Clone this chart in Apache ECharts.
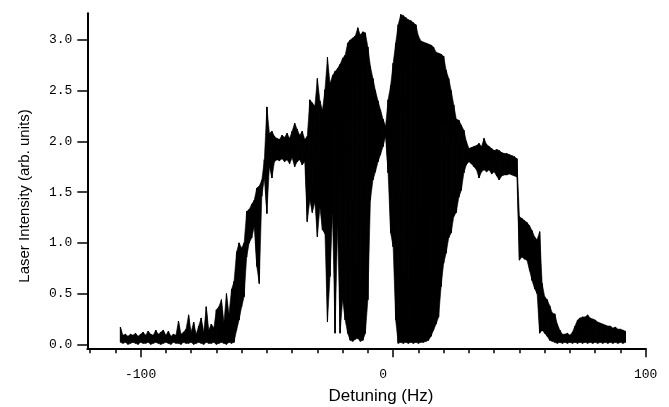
<!DOCTYPE html>
<html><head><meta charset="utf-8">
<script src="https://cdn.jsdelivr.net/npm/echarts@6/dist/echarts.min.js"></script>
<style>html,body{margin:0;padding:0;background:#fff}#c{width:669px;height:407px}</style>
</head><body><div id="c"></div>
<script>
// Detuning positions (Hz) at which the signal envelope was read
const detuning = [
-108,-107,-106,-105,-104,-103,-102,-101,-100,-99,
-98,-97,-96,-95,-94,-93,-92,-91,-90,-89,
-88,-87,-86,-85,-84,-83,-82,-81,-80,-79,
-78,-77,-76,-75,-74,-73,-72,-71,-70,-69,
-68,-67,-66,-65,-64,-63,-62,-61,-60,-59,
-58,-57,-56,-55,-54,-53,-52,-51,-50,-49,
-48,-47,-46,-45,-44,-43,-42,-41,-40,-39,
-38,-37,-36,-35,-34,-33,-32,-31,-30,-29,
-28,-27,-26,-25,-24,-23,-22,-21,-20,-19,
-18,-17,-16,-15,-14,-13,-12,-11,-10,-9,
-8,-7,-6,-5,-4,-3,-2,-1,0,1,
2,3,4,5,6,7,8,9,10,11,
12,13,14,15,16,17,18,19,20,21,
22,23,24,25,26,27,28,29,30,31,
32,33,34,35,36,37,38,39,40,41,
42,43,44,45,46,47,48,49,50,51,
52,53,54,55,56,57,58,59,60,61,
62,63,64,65,66,67,68,69,70,71,
72,73,74,75,76,77,78,79,80,81,
82,83,84,85,86,87,88,89,90,91,
92];
// Upper envelope of the laser intensity (arb. units)
const upper = [
0.17,0.09,0.10,0.08,0.10,0.09,0.11,0.08,0.10,0.12,
0.09,0.13,0.10,0.09,0.14,0.10,0.12,0.14,0.09,0.13,
0.08,0.10,0.09,0.23,0.10,0.12,0.15,0.29,0.12,0.22,
0.10,0.18,0.26,0.12,0.37,0.14,0.20,0.16,0.34,0.37,
0.44,0.22,0.50,0.30,0.54,0.62,0.91,1.00,0.95,1.00,
1.31,1.33,1.38,1.42,1.54,1.56,1.62,1.82,2.34,2.08,
2.10,2.05,2.03,2.02,2.06,2.04,2.08,2.03,2.10,2.18,
2.12,2.06,2.10,2.02,2.05,2.41,2.38,2.35,2.62,2.40,
2.31,2.51,2.83,2.57,2.65,2.69,2.72,2.76,2.82,2.85,
2.97,3.00,3.02,3.04,3.12,3.05,3.08,3.07,2.93,2.74,
2.62,2.50,2.40,2.31,2.22,2.15,2.41,2.55,2.77,2.97,
3.15,3.25,3.24,3.22,3.20,3.19,3.17,3.15,3.04,2.99,
2.98,2.97,2.96,2.95,2.93,2.88,2.87,2.86,2.84,2.70,
2.62,2.50,2.36,2.22,2.21,2.16,2.11,2.00,1.93,1.94,
1.95,1.96,1.98,1.95,2.03,1.97,1.95,1.93,1.91,1.92,
1.91,1.89,1.88,1.88,1.87,1.86,1.85,1.83,1.26,1.24,
1.22,1.20,1.17,1.12,1.06,1.03,1.11,0.60,0.47,0.44,
0.38,0.31,0.30,0.20,0.14,0.10,0.10,0.11,0.09,0.12,
0.18,0.24,0.26,0.27,0.27,0.29,0.26,0.25,0.24,0.22,
0.21,0.20,0.19,0.18,0.18,0.16,0.17,0.15,0.15,0.14,
0.13];
// Lower envelope of the laser intensity (arb. units)
const lower = [
0.02,0.01,0.02,0.00,0.01,0.02,0.01,0.00,0.02,0.01,
0.01,0.02,0.00,0.01,0.02,0.01,0.00,0.01,0.02,0.01,
0.00,0.02,0.01,0.01,0.00,0.02,0.01,0.01,0.02,0.00,
0.01,0.02,0.01,0.00,0.02,0.01,0.01,0.02,0.00,0.01,
0.02,0.01,0.00,0.02,0.01,0.02,0.14,0.24,0.37,0.47,
0.86,1.00,1.05,1.16,0.77,0.60,1.46,1.64,1.29,1.75,
1.64,1.80,1.82,1.81,1.83,1.80,1.82,1.78,1.84,1.75,
1.80,1.82,1.77,1.80,1.21,1.42,1.30,1.40,1.06,1.35,
1.13,1.09,0.22,0.67,1.29,0.11,1.16,0.11,0.44,0.24,
0.11,0.04,0.03,0.05,0.06,0.03,0.04,0.11,0.44,1.42,
1.62,1.70,1.80,1.87,1.95,2.05,1.69,1.10,0.96,0.24,
0.01,0.02,0.01,0.02,0.01,0.02,0.01,0.02,0.01,0.02,
0.02,0.03,0.04,0.08,0.14,0.20,0.27,0.57,0.80,0.90,
1.05,1.10,1.26,1.30,1.45,1.52,1.69,1.77,1.80,1.78,
1.75,1.72,1.64,1.70,1.72,1.70,1.72,1.68,1.70,1.66,
1.62,1.66,1.67,1.67,1.68,1.67,1.66,1.65,0.83,0.86,
0.84,0.83,0.73,0.63,0.55,0.50,0.11,0.14,0.11,0.08,
0.04,0.03,0.02,0.01,0.02,0.01,0.02,0.01,0.02,0.01,
0.02,0.01,0.02,0.01,0.02,0.01,0.02,0.01,0.02,0.01,
0.02,0.01,0.02,0.01,0.02,0.01,0.02,0.01,0.02,0.01,
0.02];
const yTicks = [0, 0.5, 1.0, 1.5, 2.0, 2.5, 3.0];
const xMajorTicks = [-100, 0, 100];
const xMinorTicks = [-120,-110,-100,-90,-80,-70,-60,-50,-40,-30,-20,-10,0,10,20,30,40,50,60,70,80,90,100];
const xTitle = 'Detuning (Hz)';
const yTitle = 'Laser Intensity (arb. units)';

const zigzag = [];
for (let i = 0; i < detuning.length; i++) {
  zigzag.push([detuning[i], lower[i]]);
  zigzag.push([detuning[i], upper[i]]);
}
const bands = [];
for (let i = 0; i < detuning.length - 1; i++) {
  bands.push([detuning[i], lower[i], upper[i], detuning[i+1], lower[i+1], upper[i+1]]);
}

const chart = echarts.init(document.getElementById('c'), null, {renderer: 'canvas'});
const monoFont = '"Liberation Mono", "DejaVu Sans Mono", monospace';
chart.setOption({
  animation: false,
  backgroundColor: '#fff',
  grid: {left: 87.3, right: 23.3, top: 13.3, bottom: 58.7},
  xAxis: [{
    type: 'value', min: -121.1, max: 100, position: 'bottom',
    axisLine: {show: true, onZero: false, lineStyle: {color: '#000', width: 2}},
    axisTick: {show: true, customValues: xMinorTicks, length: 5, lineStyle: {color: '#000', width: 1.5}},
    axisLabel: {show: false},
    splitLine: {show: false}
  }, {
    type: 'value', min: -121.1, max: 100, position: 'bottom',
    axisLine: {show: false, onZero: false},
    axisTick: {show: true, customValues: xMajorTicks, length: 9, lineStyle: {color: '#000', width: 1.5}},
    axisLabel: {show: true, customValues: xMajorTicks, margin: 20, color: '#000', fontFamily: monoFont, fontSize: 13,
      formatter: v => v === 0 ? '{z|0}' : String(v),
      rich: {z: {fontFamily: monoFont, fontSize: 13, color: '#000', padding: [0, 20, 0, 0]}}},
    splitLine: {show: false}
  }],
  yAxis: {
    type: 'value', min: -0.039, max: 3.263,
    axisLine: {show: true, onZero: false, lineStyle: {color: '#000', width: 2}},
    axisTick: {show: true, customValues: yTicks, length: 10, lineStyle: {color: '#000', width: 1.5}},
    axisLabel: {show: true, customValues: yTicks, margin: 15, color: '#000', fontFamily: monoFont, fontSize: 13,
      formatter: v => v.toFixed(1)},
    splitLine: {show: false}
  },
  graphic: [{
    type: 'text', x: 25, y: 196, rotation: Math.PI / 2,
    style: {text: yTitle, font: '15px "Liberation Sans", Arial, sans-serif', fill: '#000', align: 'center', verticalAlign: 'middle'}
  }, {
    type: 'text', x: 381, y: 396,
    style: {text: xTitle, font: '17px "Liberation Sans", Arial, sans-serif', fill: '#000', align: 'center', verticalAlign: 'middle'}
  }],
  series: [{
    type: 'custom', xAxisIndex: 0, yAxisIndex: 0, data: bands,
    encode: {x: [0, 3], y: [1, 2, 4, 5]},
    clip: true,
    renderItem: (params, api) => {
      const a = api.coord([api.value(0), api.value(1)]);
      const b = api.coord([api.value(0), api.value(2)]);
      const c = api.coord([api.value(3), api.value(5)]);
      const d = api.coord([api.value(3), api.value(4)]);
      return {type: 'polygon', shape: {points: [a, b, c, d]}, style: {fill: '#000', stroke: '#000', lineWidth: 0.6}};
    },
    z: 2
  }, {
    type: 'line', xAxisIndex: 0, yAxisIndex: 0, data: zigzag,
    showSymbol: false, symbol: 'none', sampling: null,
    lineStyle: {color: '#000', width: 1}, z: 3
  }]
});
</script>
</body></html>
